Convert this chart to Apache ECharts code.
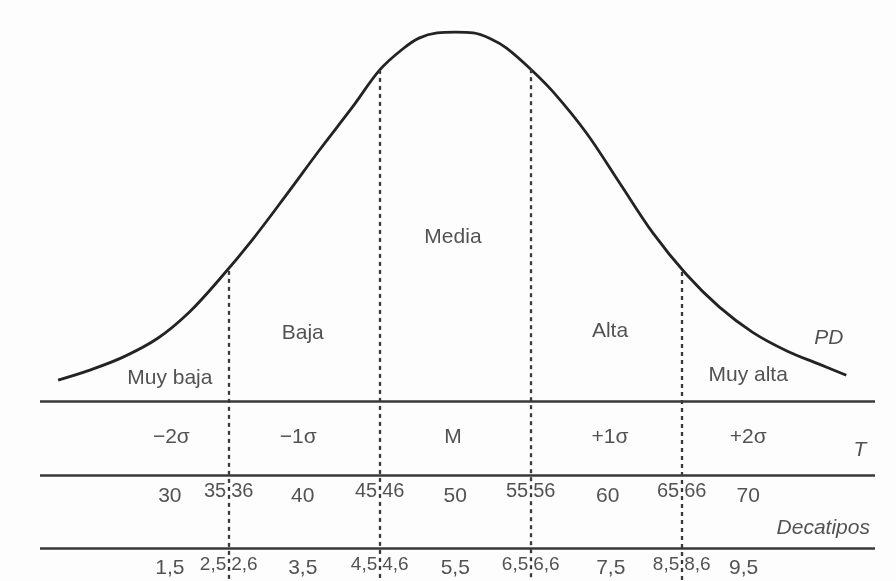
<!DOCTYPE html>
<html>
<head>
<meta charset="utf-8">
<script src="https://cdn.jsdelivr.net/npm/echarts@6/dist/echarts.min.js"></script>
<style>
html,body{margin:0;padding:0;background:#fdfdfd;}
#c{width:896px;height:581px;}
</style>
</head>
<body>
<div id="c"></div>
<script>
// ---- data (x in T-score units, y in relative height of the curve, PD) ----
const curveT  = [24.2, 26.3, 28.5, 30.8, 32.9, 34.9, 37.1, 39.4, 41.5, 43.7, 45.5, 47.0, 48.1, 49.3, 50.5, 51.7, 52.9, 53.9, 55.5, 57.0, 59.2, 61.4, 63.6, 65.8, 68.0, 70.2, 72.5, 74.6, 76.4];
const curvePD = [5.7, 8.4, 11.9, 17.0, 24.1, 33.0, 43.8, 56.2, 67.8, 79.5, 89.5, 95.1, 98.1, 99.5, 99.7, 99.5, 97.8, 95.4, 89.7, 83.5, 72.4, 58.9, 45.4, 34.3, 25.4, 18.6, 13.5, 10.0, 7.0];

const dividerT   = [35.5, 45.5, 55.5, 65.5];
const dividerTop = [35.2, 89.5, 89.7, 34.9];

const ruleY = [0, -20, -39.7];

const categoryLabels = ['Muy baja', 'Baja', 'Media', 'Alta', 'Muy alta'];
const categoryT      = [31.6, 40.4, 50.35, 60.75, 69.9];
const categoryY      = [6.2, 18.4, 44.2, 18.9, 7.0];

const sigmaLabels = ['\u22122\u03c3', '\u22121\u03c3', 'M', '+1\u03c3', '+2\u03c3'];
const sigmaT      = [31.7, 40.1, 50.35, 60.75, 69.9];
const sigmaY      = -9.7;

const tLabels      = ['30', '40', '50', '60', '70'];
const tLabelT      = [31.6, 40.4, 50.5, 60.6, 69.9];
const tLabelY      = -25.8;
const tSplitLeft   = ['35', '45', '55', '65'];
const tSplitRight  = ['36', '46', '56', '66'];
const tSplitY      = -24.4;

const decLabels     = ['1,5', '3,5', '5,5', '7,5', '9,5'];
const decLabelT     = [31.6, 40.4, 50.5, 60.8, 69.6];
const decLabelY     = -45.2;
const decSplitLeft  = ['2,5', '4,5', '6,5', '8,5'];
const decSplitRight = ['2,6', '4,6', '6,6', '8,6'];
const decSplitY     = -44.2;

const scaleNames = ['PD', 'T', 'Decatipos'];
const scaleNameT = [75.25, 77.3, 78.0];
const scaleNameY = [16.9, -13.2, -34.2];

const xMin = 23, xMax = 78.3, yMin = -48.6, yMax = 108.4;

// ---- chart ----
const FONT = "'Liberation Sans', Arial, sans-serif";
const TXT = '#272727';
const LINE = '#383838';

function textSeries(items, opts) {
  return {
    type: 'scatter',
    symbolSize: 1,
    itemStyle: { color: 'transparent' },
    silent: true,
    z: 5,
    data: items.map(it => ({ value: [it[0], it[1]], name: it[2] })),
    label: Object.assign({
      show: true,
      position: 'inside',
      formatter: p => p.name,
      fontFamily: FONT,
      fontSize: 21,
      color: TXT
    }, opts || {})
  };
}

const zip = (names, xs, ys) => names.map((n, i) => [xs[i], Array.isArray(ys) ? ys[i] : ys, n]);

const chart = echarts.init(document.getElementById('c'));
chart.setOption({
  animation: false,
  backgroundColor: '#fdfdfd',
  grid: { left: 40, right: 21, top: 0, bottom: 0 },
  xAxis: { type: 'value', min: xMin, max: xMax, show: false },
  yAxis: { type: 'value', min: yMin, max: yMax, show: false },
  series: [
    {
      type: 'line',
      smooth: 0.35,
      showSymbol: false,
      silent: true,
      lineStyle: { color: '#232323', width: 2.8 },
      data: curveT.map((t, i) => [t, curvePD[i]]),
      markLine: {
        silent: true,
        symbol: 'none',
        label: { show: false },
        data: ruleY.map(y => ({ yAxis: y, lineStyle: { type: 'solid', color: LINE, width: 2.5 } }))
          .concat(dividerT.map((t, i) => [
            { coord: [t, dividerTop[i]], lineStyle: { type: [4, 4], color: '#3a3a3a', width: 2.3 } },
            { coord: [t, yMin] }
          ]))
      }
    },
    textSeries(zip(categoryLabels, categoryT, categoryY)),
    textSeries(zip(sigmaLabels, sigmaT, sigmaY)),
    textSeries(zip(tLabels, tLabelT, tLabelY)),
    textSeries(zip(tSplitLeft, dividerT, tSplitY), { position: 'left', distance: 2, fontSize: 20 }),
    textSeries(zip(tSplitRight, dividerT, tSplitY), { position: 'right', distance: 2, fontSize: 20 }),
    textSeries(zip(decLabels, decLabelT, decLabelY)),
    textSeries(zip(decSplitLeft, dividerT, decSplitY), { position: 'left', distance: 2, fontSize: 19 }),
    textSeries(zip(decSplitRight, dividerT, decSplitY), { position: 'right', distance: 2, fontSize: 19 }),
    textSeries(zip(scaleNames.slice(0, 2), scaleNameT.slice(0, 2), scaleNameY.slice(0, 2)), { fontStyle: 'italic' }),
    textSeries(zip(scaleNames.slice(2), scaleNameT.slice(2), scaleNameY.slice(2)), { fontStyle: 'italic', position: 'left', distance: 0 })
  ]
});
</script>
</body>
</html>
